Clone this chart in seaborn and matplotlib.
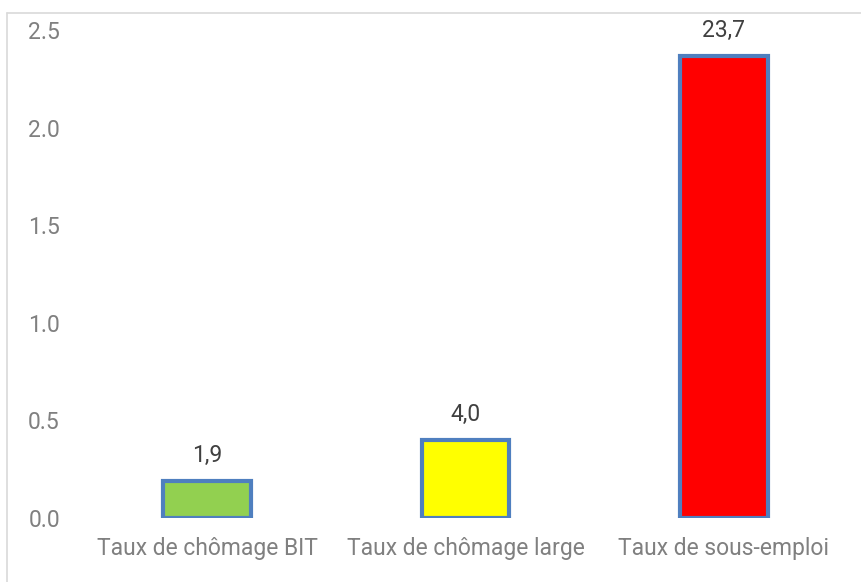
import matplotlib
matplotlib.use("Agg")
import matplotlib.pyplot as plt
from matplotlib.lines import Line2D
import seaborn as sns
import pandas as pd

# values as drawn on the axis (labels show the rate in %)
categories = ["Taux de chômage BIT", "Taux de chômage large", "Taux de sous-emploi"]
values = [0.19, 0.40, 2.37]
value_labels = ["1,9", "4,0", "23,7"]
bar_colors = ["#92D050", "#FFFF00", "#FF0000"]

df = pd.DataFrame({"cat": categories, "val": values})

sns.set_style("white")
plt.rcParams["font.family"] = ["Roboto", "DejaVu Sans"]

fig = plt.figure(figsize=(8.62, 5.82), dpi=100)
ax = fig.add_axes([0.0905, 0.110, 0.899, 0.838])

sns.barplot(data=df, x="cat", y="val", hue="cat", palette=bar_colors,
            legend=False, width=0.34, edgecolor="#4F7FBF", linewidth=3,
            saturation=1, ax=ax)

for cont, lab in zip(ax.containers, value_labels):
    ax.bar_label(cont, labels=[lab], padding=10, fontsize=16.5, color="#404040")

ax.set_ylim(0, 2.5)
ax.set_xlim(-0.5, 2.5)
ax.set_yticks([0, 0.5, 1.0, 1.5, 2.0, 2.5])
ax.set_yticklabels(["0.0", "0.5", "1.0", "1.5", "2.0", "2.5"])
ax.set_xlabel("")
ax.set_ylabel("")
ax.tick_params(axis="both", length=0, labelsize=16.5, labelcolor="#808080")
ax.tick_params(axis="y", pad=13)
ax.tick_params(axis="x", pad=14)
sns.despine(ax=ax, left=True, bottom=True)

# light frame around the chart area (top and left edges visible)
frame_col = "#D9D9D9"
fig.add_artist(Line2D([7 / 862, 1], [1 - 13 / 582, 1 - 13 / 582],
                      transform=fig.transFigure, color=frame_col, lw=1.2))
fig.add_artist(Line2D([7 / 862, 7 / 862], [0, 1 - 13 / 582],
                      transform=fig.transFigure, color=frame_col, lw=1.2))

fig.savefig("out.png", dpi=100)
